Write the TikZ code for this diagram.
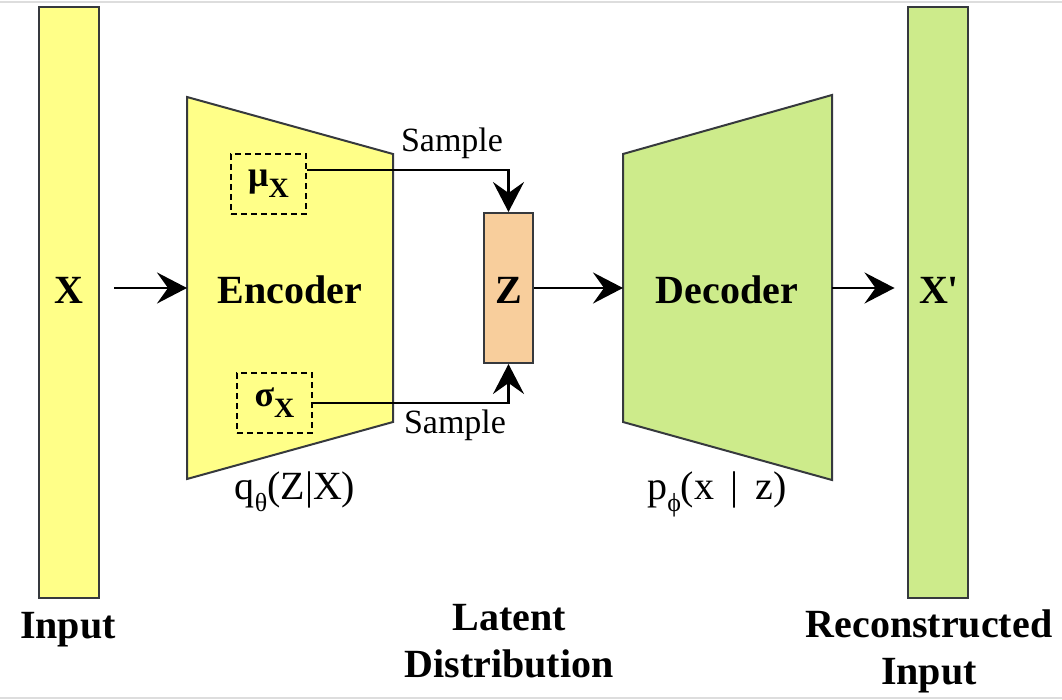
\documentclass[tikz,border=0pt]{standalone}
\usepackage{fontspec}
\setmainfont{Liberation Serif}[Ligatures=TeXOff]
\usetikzlibrary{arrows.meta,calc}
\definecolor{yel}{HTML}{FFFF88}
\definecolor{grn}{HTML}{CDEB8B}
\definecolor{org}{HTML}{F8CE9C}
\definecolor{strk}{HTML}{36393D}
\definecolor{frame}{HTML}{DDDDDD}
\begin{document}
\begin{tikzpicture}[x=1pt,y=-1pt,
  bar/.style={draw=strk,line width=2pt,minimum width=60pt,minimum height=591pt,inner sep=0pt},
  shapeline/.style={draw=strk,line width=2pt},
  conn/.style={line width=2.4pt,-{Stealth[length=30pt,width=31pt,inset=11pt]}},
  biglbl/.style={font=\fontsize{40}{47}\selectfont\bfseries,align=center,inner sep=0pt},
  smlbl/.style={font=\fontsize{34}{38}\selectfont,inner sep=0pt},
  fnlbl/.style={font=\fontsize{40}{40}\selectfont,inner sep=0pt},
  dbox/.style={draw=black,line width=1.6pt,dash pattern=on 6pt off 4pt,minimum width=75pt,minimum height=60pt,inner sep=0pt,font=\fontsize{36}{36}\selectfont\bfseries}
]
\useasboundingbox (0,0) rectangle (1062,700);
\draw[frame,line width=1.5pt] (0,2) -- (1062,2);
\draw[frame,line width=1.5pt] (0,698) -- (1062,698);

% input bar
\node[bar,fill=yel] (xin) at (69,302.5) {};
\node[biglbl] (xlbl) at (69,290) {X};
\node[biglbl] (inlbl) at (68,630) {Input};

% encoder
\draw[shapeline,fill=yel] (187,97) -- (393,154) -- (393,422) -- (187,479) -- cycle;
\coordinate (encin) at (187,288);
\node[biglbl] (enc) at (290,290) {Encoder};
\node[dbox] (mu) at (268.5,184) {μ\raisebox{-0.3em}{\fontsize{28}{28}\selectfont\bfseries X}};
\node[dbox] (sig) at (274.5,403) {σ\raisebox{-0.3em}{\fontsize{28}{28}\selectfont\bfseries X}};
\node[fnlbl] (qlbl) at (295,492) {q\raisebox{-0.3em}{\fontsize{26}{26}\selectfont θ}(Z|X)};

% latent
\node[draw=strk,line width=2pt,fill=org,minimum width=49pt,minimum height=150pt,inner sep=0pt] (z) at (508.5,288) {};
\node[biglbl] (zlbl) at (508.5,290) {Z};
\node[smlbl] (s1) at (452,143) {Sample};
\node[smlbl] (s2) at (455,425) {Sample};
\node[biglbl] (latlbl) at (509,641) {Latent\\Distribution};

\draw[conn] ([yshift=14pt]mu.east) -| (z.north);
\draw[conn] (sig.east) -| (z.south);

% decoder
\draw[shapeline,fill=grn] (623,154) -- (832,95) -- (832,480) -- (623,422) -- cycle;
\coordinate (decin) at (623,288);
\coordinate (decout) at (832,288);
\node[biglbl] (dec) at (727,290) {Decoder};
\node[fnlbl] (plbl) at (717,494) {p\raisebox{-0.3em}{\fontsize{26}{26}\selectfont ϕ}(x \,|\, z)};

% output bar
\node[bar,fill=grn] (xout) at (937.5,302.5) {};
\node[biglbl] (xolbl) at (939,290) {X'};
\node[biglbl] (reclbl) at (929,651) {Reconstructed\\Input};

% main arrows
\draw[conn,shorten <=14pt] (xin.east |- encin) -- (encin);
\draw[conn] (z.east |- decin) -- (decin);
\draw[conn,shorten >=12pt] (decout) -- (xout.west |- decout);
\end{tikzpicture}
\end{document}
